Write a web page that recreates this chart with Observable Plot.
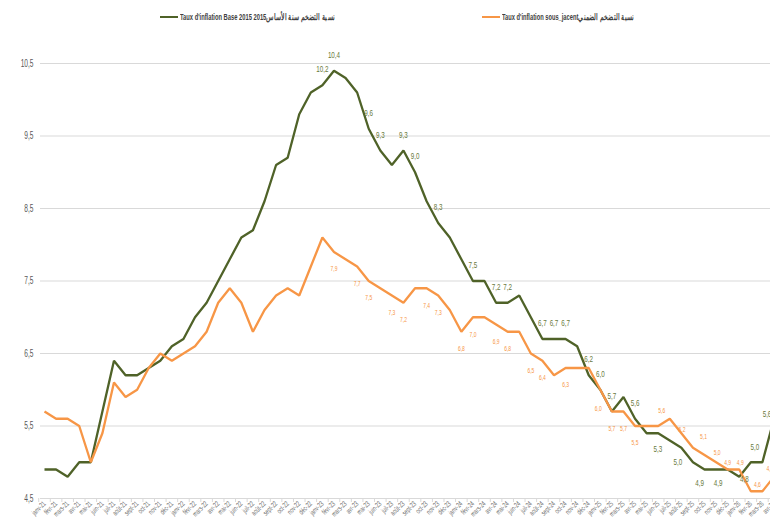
<!DOCTYPE html>
<html>
<head>
<meta charset="utf-8">
<script src="https://cdn.jsdelivr.net/npm/d3@7"></script>
<script src="https://cdn.jsdelivr.net/npm/@observablehq/plot@0.6"></script>
<style>
  html, body { margin: 0; padding: 0; background: #fff; overflow: hidden; }
  #wrap { position: relative; width: 770px; height: 526px; }
  #legend { position: absolute; top: 11px; left: 0; width: 770px; height: 14px;
    font-family: "Liberation Sans", Arial, sans-serif;
    font-size: 8.5px; font-weight: bold; color: #404040; }
  .item { position: absolute; top: 0; display: flex; align-items: center; white-space: nowrap; height: 12px; }
  .sw { display: inline-block; width: 18px; height: 2px; margin-right: 2px; flex: none; }
  .lt { display: inline-block; transform-origin: left center; }
</style>
</head>
<body>
<div id="wrap"><div id="chart"></div><div id="legend"></div></div>
<script>
// ---- data ----
const monthNames = ["janv","févr","mars","avr","mai","juin","juil","août","sept","oct","nov","déc"];
const years = ["21","22","23","24","25","26"];
const months = years.flatMap(y => monthNames.map(m => `${m}-${y}`)).slice(0, 64); // janv-21 .. avr-26

const seriesNames = [
  "Taux d'inflation Base 2015 2015نسبة التضخم سنة الأساس",
  "Taux d'inflation sous_jacentنسبة التضخم الضمني"
];

const base2015 = [
  4.9, 4.9, 4.8, 5.0, 5.0, 5.7, 6.4, 6.2, 6.2, 6.3, 6.4, 6.6,
  6.7, 7.0, 7.2, 7.5, 7.8, 8.1, 8.2, 8.6, 9.1, 9.2, 9.8, 10.1,
  10.2, 10.4, 10.3, 10.1, 9.6, 9.3, 9.1, 9.3, 9.0, 8.6, 8.3, 8.1,
  7.8, 7.5, 7.5, 7.2, 7.2, 7.3, 7.0, 6.7, 6.7, 6.7, 6.6, 6.2,
  6.0, 5.7, 5.9, 5.6, 5.4, 5.4, 5.3, 5.2, 5.0, 4.9, 4.9, 4.9,
  4.8, 5.0, 5.0, 5.6
];

const sousJacent = [
  5.7, 5.6, 5.6, 5.5, 5.0, 5.4, 6.1, 5.9, 6.0, 6.3, 6.5, 6.4,
  6.5, 6.6, 6.8, 7.2, 7.4, 7.2, 6.8, 7.1, 7.3, 7.4, 7.3, 7.7,
  8.1, 7.9, 7.8, 7.7, 7.5, 7.4, 7.3, 7.2, 7.4, 7.4, 7.3, 7.1,
  6.8, 7.0, 7.0, 6.9, 6.8, 6.8, 6.5, 6.4, 6.2, 6.3, 6.3, 6.3,
  6.0, 5.7, 5.7, 5.5, 5.5, 5.5, 5.6, 5.4, 5.2, 5.1, 5.0, 4.9,
  4.9, 4.6, 4.6, 4.8
];

const yTicks = [4.5, 5.5, 6.5, 7.5, 8.5, 9.5, 10.5];

// months (indices) that carry a data label
const baseLabelIdx = [24,25,28,29,31,32,34,37,39,40,43,44,45,47,48,49,51,54,56,57,58,60,61,63];
const sousLabelIdx = [25,27,28,30,31,33,34,36,37,39,40,42,43,45,48,49,50,51,54,56,57,58,59,60,62,63];

// ---- styling (label offsets in px) ----
const colors = ["#4f6228", "#f79646"];
const baseOffsets = {54:[-12,8], 56:[-15,0], 57:[-5,13], 58:[2,13], 60:[5,2], 61:[4,-15], 63:[-7,-5]};
const sousOffsets = {48:[-2,19], 54:[-8,-8], 56:[-11,-18], 57:[-1,-18], 58:[1,-10], 59:[0,-7], 60:[1,-7], 62:[-5,-7], 63:[-4,-8]};
const FONT = '"Liberation Sans", Arial, sans-serif';
const CONDENSE = 0.66;
const legendLefts = [160, 482];
const legendWidths = [155, 132];
const fmt = v => v.toFixed(1).replace(".", ",");

const rows = [
  ...months.map((m, i) => ({month: m, value: base2015[i], series: seriesNames[0]})),
  ...months.map((m, i) => ({month: m, value: sousJacent[i], series: seriesNames[1]}))
];

const labelMarks = [
  ...baseLabelIdx.map(i => {
    const [dx, dy] = baseOffsets[i] || [0, -16];
    return Plot.text([{month: months[i], value: base2015[i]}], {
      x: "month", y: "value", text: d => fmt(d.value), dx, dy,
      fill: "#6a7a3c", fontSize: 9.5, fontFamily: FONT
    });
  }),
  ...sousLabelIdx.map(i => {
    const [dx, dy] = sousOffsets[i] || [0, 17];
    return Plot.text([{month: months[i], value: sousJacent[i]}], {
      x: "month", y: "value", text: d => fmt(d.value), dx, dy,
      fill: "#f79646", fontSize: 7.5, fontFamily: FONT
    });
  })
];

const chart = Plot.plot({
  width: 770,
  height: 526,
  marginLeft: 40,
  marginRight: 0,
  marginTop: 63,
  marginBottom: 28,
  style: {fontFamily: FONT, background: "white", overflow: "hidden"},
  x: {type: "point", domain: months, range: [44, 773.5], padding: 0, round: false},
  y: {domain: [4.5, 10.5], range: [498, 63]},
  color: {domain: seriesNames, range: colors},
  marks: [
    Plot.ruleY(yTicks, {stroke: "#d9d9d9", strokeWidth: 1.2}),
    Plot.axisY({ticks: yTicks, tickFormat: fmt, tickSize: 0, tickPadding: 7,
      fontSize: 10, fill: "#595959", label: null}),
    Plot.axisX({tickSize: 4, tickFormat: () => "", dx: -5.79, stroke: "#d9d9d9", label: null}),
    Plot.axisX({tickSize: 0, tickRotate: -45, tickPadding: 4, fontSize: 7.5,
      fill: "#6f6f6f", label: null}),
    Plot.line(rows, {x: "month", y: "value", stroke: "series", z: "series",
      strokeWidth: 2.3, strokeLinejoin: "miter", strokeLinecap: "butt"}),
    ...labelMarks
  ]
});
document.getElementById("chart").appendChild(chart);

// narrow the glyphs (the original uses a condensed face)
chart.querySelectorAll("text").forEach(el => {
  const len = el.getComputedTextLength();
  if (len > 0) {
    el.setAttribute("textLength", (len * CONDENSE).toFixed(2));
    el.setAttribute("lengthAdjust", "spacingAndGlyphs");
  }
});

// legend
const legend = document.getElementById("legend");
seriesNames.forEach((name, k) => {
  const item = document.createElement("div");
  item.className = "item";
  item.style.left = legendLefts[k] + "px";
  const sw = document.createElement("span");
  sw.className = "sw";
  sw.style.background = colors[k];
  const t = document.createElement("span");
  t.className = "lt";
  t.dir = "ltr";
  t.textContent = name;
  item.appendChild(sw);
  item.appendChild(t);
  legend.appendChild(item);
  const w = t.getBoundingClientRect().width;
  if (w > 0) t.style.transform = `scaleX(${legendWidths[k] / w})`;
});
</script>
</body>
</html>
